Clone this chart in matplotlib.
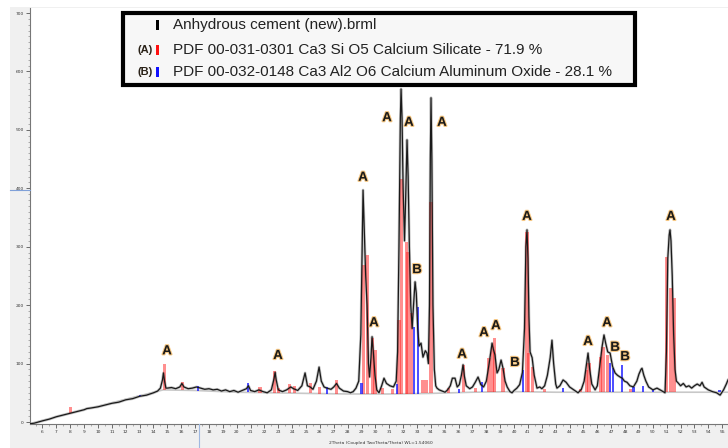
import matplotlib
matplotlib.use("Agg")
import matplotlib.pyplot as plt
import matplotlib.patheffects as pe
from matplotlib.patches import Rectangle
from matplotlib.lines import Line2D
import numpy as np

# ---------------- data ----------------
two_theta = [5.10, 5.4, 5.7, 6.0, 6.5, 7.0, 7.5, 8.0, 8.5, 9.0, 9.2, 9.5, 10.0, 10.5, 11.0, 11.5, 12.0,
             12.5, 13.0, 13.5, 14.0, 14.3, 14.5, 14.65, 14.72, 14.8, 14.9,
             15.0, 15.3, 15.6, 15.9, 16.05, 16.2, 16.5, 16.8, 17.1, 17.4, 17.7, 18.0, 18.3, 18.6,
             18.9, 19.2, 19.5, 19.8, 20.1, 20.4, 20.7, 20.85, 21.0, 21.3, 21.6, 21.9, 22.2, 22.5,
             22.7, 22.77, 22.85, 23.0, 23.3, 23.6, 23.9, 24.1, 24.4, 24.7, 24.93, 25.1, 25.3, 25.5,
             25.75, 25.94, 26.1, 26.3, 26.5, 26.8, 27.0, 27.2, 27.4, 27.7, 28.0, 28.2, 28.4, 28.6,
             28.8, 28.95, 29.05, 29.11, 29.2, 29.3, 29.4, 29.5, 29.58, 29.68, 29.76, 29.85, 29.97,
             30.1, 30.26, 30.45, 30.62, 30.8, 31.05, 31.3, 31.5, 31.6, 31.7, 31.8, 31.85, 31.92,
             32.0, 32.1, 32.2, 32.28, 32.36, 32.45, 32.55, 32.65, 32.75, 32.86, 32.95, 33.05, 33.15,
             33.29, 33.43, 33.6, 33.72, 33.82, 33.9, 33.96, 34.01, 34.07, 34.15, 34.25, 34.35, 34.44,
             34.6, 34.8, 35.02, 35.2, 35.4, 35.55, 35.74, 35.9, 36.05, 36.2, 36.32, 36.42, 36.55,
             36.8, 37.0, 37.2, 37.4, 37.6, 37.8, 38.0, 38.2, 38.41, 38.5, 38.62, 38.77, 38.9, 39.06,
             39.2, 39.35, 39.5, 39.7, 39.85, 40.0, 40.2, 40.4, 40.6, 40.75, 40.85, 40.93, 41.0,
             41.07, 41.15, 41.3, 41.45, 41.65, 41.85, 42.0, 42.2, 42.4, 42.6, 42.73, 42.85, 43.0,
             43.09, 43.3, 43.53, 43.75, 44.0, 44.3, 44.61, 44.85, 45.05, 45.2, 45.33, 45.45, 45.6,
             45.84, 46.0, 46.2, 46.35, 46.48, 46.6, 46.75, 46.92, 47.1, 47.28, 47.45, 47.64, 47.8,
             47.95, 48.14, 48.35, 48.6, 48.85, 49.0, 49.15, 49.22, 49.35, 49.5, 49.7, 50.01, 50.3,
             50.6, 50.88, 50.98, 51.08, 51.18, 51.24, 51.31, 51.4, 51.5, 51.6, 51.7, 51.82, 52.0,
             52.2, 52.4, 52.6, 52.8, 53.0, 53.2, 53.4, 53.55, 53.7, 54.0, 54.3, 54.6, 54.85, 55.1,
             55.3, 55.42]
intensity = [-3, -2, 0, 2, 5, 9, 12, 15, 18, 21, 23, 24, 26, 29, 32, 34, 38,
             40, 44, 46, 50, 53, 58, 72, 84, 70, 58,
             58, 59, 57, 60, 66, 60, 57, 58, 60, 58, 56, 57, 55, 56,
             53, 55, 52, 54, 51, 54, 57, 62, 54, 52, 55, 52, 50, 55,
             75, 85, 72, 55, 52, 55, 60, 57, 54, 62, 84, 62, 60, 56,
             70, 94, 70, 60, 58, 56, 60, 66, 58, 53, 52, 50, 52, 58,
             70, 150, 300, 397, 330, 250, 200, 100, 77, 110, 146, 120, 80,
             55, 50, 62, 75, 66, 62, 60, 70, 120, 300, 520, 570, 520,
             400, 310, 400, 483, 420, 300, 200, 160, 200, 240, 220, 160, 130,
             135, 111, 122, 118, 100, 200, 450, 555, 450, 200, 90, 62, 58,
             55, 53, 51, 55, 62, 75, 75, 60, 64, 80, 98, 78, 62,
             57, 60, 68, 77, 64, 60, 70, 100, 135, 125, 115, 84, 90, 106,
             92, 70, 60, 52, 50, 54, 58, 64, 85, 160, 300, 329, 280,
             180, 120, 110, 80, 58, 60, 57, 62, 80, 110, 140, 100, 65,
             58, 62, 72, 68, 60, 55, 50, 56, 70, 95, 118, 90, 65,
             55, 62, 100, 130, 149, 135, 120, 118, 95, 84, 80, 77, 75,
             70, 68, 62, 60, 70, 82, 90, 92, 80, 70, 60, 55, 58,
             54, 50, 120, 280, 320, 329, 310, 250, 150, 90, 70, 67, 62,
             66, 60, 62, 58, 62, 65, 62, 68, 60, 55, 52, 50, 46, 55,
             65, 72]

bg_theta = [5.10, 8.0, 14.7, 17.0, 20.0, 25.0, 28.0, 31.0, 34.0, 37.0, 40.0, 43.0, 46.0, 49.0, 52.0, 55.42]
bg_int = [-3, 15, 55, 54, 51, 49, 48, 48, 49, 51, 52, 51, 51, 51, 51, 51]

phaseA_theta = [8.03, 14.83, 16.06, 21.68, 22.76, 23.0, 23.84, 24.2, 25.29, 26.0, 27.23, 29.11, 29.4,
                29.76, 29.97, 30.5, 31.2, 31.7, 31.85, 32.21, 32.35, 32.57, 33.43, 33.65, 34.01,
                35.3, 36.32, 37.2, 38.19, 38.41, 38.62, 39.2, 40.93, 41.07, 41.36, 42.2, 44.8,
                45.19, 45.4, 46.2, 46.41, 46.7, 48.4, 51.02, 51.31, 51.53]
phaseA_int = [26, 100, 68, 60, 87, 58, 65, 62, 67, 60, 72, 269, 286,
              144, 123, 58, 57, 175, 416, 308, 291, 186, 72, 72, 376,
              58, 98, 58, 109, 128, 143, 92, 325, 118, 94, 56, 56,
              89, 101, 111, 128, 115, 56, 282, 229, 212]

phaseB_theta = [11.73, 13.03, 17.21, 20.82, 26.51, 29.0, 31.56, 32.78, 33.07, 36.0, 37.7,
                40.64, 43.5, 46.92, 47.13, 47.78, 48.6, 49.29, 50.0, 54.8]
phaseB_int = [38, 46, 62, 67, 60, 67, 65, 163, 197, 56, 68,
              89, 58, 101, 92, 97, 60, 62, 55, 55]

labels_text = ["A", "A", "A", "A", "A", "A", "B", "A", "A", "A", "A", "B", "A", "A", "A", "B", "B", "A"]
labels_theta = [14.98, 22.98, 29.11, 29.9, 30.84, 32.42, 33.0, 34.8, 36.25, 37.83, 38.69, 40.06,
                40.93, 45.33, 46.70, 47.28, 48.0, 51.31]
labels_int = [121, 113, 418, 169, 520, 512, 260, 512, 115, 152, 164, 101, 351, 137, 169, 127, 111, 351]

legend_names = ["Anhydrous cement (new).brml",
                "PDF 00-031-0301 Ca3 Si O5 Calcium Silicate - 71.9 %",
                "PDF 00-032-0148 Ca3 Al2 O6 Calcium Aluminum Oxide - 28.1 %"]
legend_tags = ["", "(A)", "(B)"]
legend_colors = ["black", "#ff1010", "#1010ff"]

x_ticks = list(range(6, 56))
y_ticks = [0, 100, 200, 300, 400, 500, 600, 700]
x_label = "2Theta (Coupled TwoTheta/Theta) WL=1.54060"

# ---------------- figure ----------------
W, H = 728, 448
fig = plt.figure(figsize=(W / 100, H / 100), dpi=100, facecolor="white")
fig.add_artist(Rectangle((10 / W, 0), 1 - 10 / W, 441 / H, transform=fig.transFigure,
                         facecolor="#f0f0f0", edgecolor="none", zorder=-5))

ax = fig.add_axes([30 / W, (H - 424) / H, (W - 30) / W, 416 / H])
ax.set_facecolor("white")
ax.set_xlim(5.10, 55.42)
ax.set_ylim(-3.4, 708.6)

# background curve
ax.plot(bg_theta, bg_int, color="#c8c8c8", lw=1.2, zorder=1)

# measured pattern halo
ax.plot(two_theta, intensity, color="#c4c4c4", lw=2.0, zorder=2, solid_joinstyle="round")

# stick patterns
bA = np.interp(phaseA_theta, bg_theta, bg_int)
bB = np.interp(phaseB_theta, bg_theta, bg_int)
ax.bar(phaseA_theta, np.array(phaseA_int) - bA, bottom=bA, width=0.22,
       color="#ff2020", alpha=0.5, linewidth=0, zorder=3)
ax.bar(phaseB_theta, np.array(phaseB_int) - bB, bottom=bB, width=0.16,
       color="#1515ff", alpha=0.75, linewidth=0, zorder=3)

# measured pattern
ax.plot(two_theta, intensity, color="#1a1a1a", lw=0.9, zorder=4, solid_joinstyle="round")

# peak labels
for t, x, y in zip(labels_text, labels_theta, labels_int):
    ax.text(x, y, t, ha="center", va="center", fontsize=9.5, fontweight="bold",
            family="Liberation Sans", color="#1a1a1a", zorder=6,
            path_effects=[pe.withStroke(linewidth=1.6, foreground="#f2b050", alpha=0.7)])

# axes styling
for s in ["top", "right"]:
    ax.spines[s].set_visible(False)
for s in ["left", "bottom"]:
    ax.spines[s].set_color("#777777")
    ax.spines[s].set_linewidth(0.8)
ax.set_xticks(x_ticks)
ax.set_xticks(np.arange(5.5, 55.5, 0.5), minor=True)
ax.set_yticks(y_ticks)
ax.set_yticks(np.arange(0, 710, 10), minor=True)
ax.tick_params(axis="both", which="major", length=3, width=0.6, color="#555555",
               labelsize=3.2, labelcolor="#333333", pad=1.5)
ax.tick_params(axis="both", which="minor", length=1.5, width=0.4, color="#777777")
fig.text(381 / W, (H - 443) / H, x_label, ha="center", va="center", fontsize=3.2, color="#333333")

# cursor marks
fig.add_artist(Line2D([10 / W, 30 / W], [(H - 190) / H] * 2, color="#7fa0d8", lw=0.8))
fig.add_artist(Line2D([199 / W, 199 / W], [0, (H - 424) / H], color="#9fb8e0", lw=0.8))

# legend box
fig.add_artist(Rectangle((123 / W, (H - 85) / H), (635 - 123) / W, (85 - 13) / H,
                         transform=fig.transFigure, facecolor="#f7f7f7", edgecolor="black",
                         linewidth=3, zorder=10))
rows_y = [25, 50, 72]
for name, tag, col, ry in zip(legend_names, legend_tags, legend_colors, rows_y):
    fy = (H - ry) / H
    fig.add_artist(Rectangle((156 / W, fy - 5 / H), 3 / W, 10 / H, transform=fig.transFigure,
                             facecolor=col, edgecolor="none", zorder=11))
    if tag:
        fig.text(153 / W, fy, tag, ha="right", va="center", fontsize=8, fontweight="bold",
                 family="Liberation Sans", color="#2a2218", zorder=12)
    fig.text(173 / W, fy, name, ha="left", va="center", fontsize=11,
             family="Liberation Sans", color="#222222", zorder=12)

fig.savefig("out.png", dpi=100, facecolor=fig.get_facecolor())
